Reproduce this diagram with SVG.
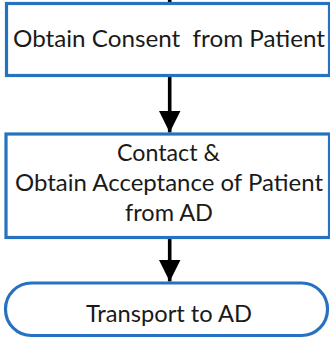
<svg xmlns="http://www.w3.org/2000/svg" width="330" height="339" viewBox="0 0 330 339">
<style>
.box{fill:#ffffff;stroke:#2672C0;stroke-width:3.2}
.lbl{font-family:Lato,"Open Sans","Liberation Sans",sans-serif;font-size:24px;fill:#1a1a1a;text-anchor:middle;white-space:pre}
.edge{stroke:#000;stroke-width:3.6;fill:none}
</style>
<defs>
<marker id="ah" markerUnits="userSpaceOnUse" markerWidth="22" markerHeight="22" refX="20" refY="10" orient="auto" viewBox="0 0 20 20">
<path d="M0,0 L20,10 L0,20 Z" fill="#000"/>
</marker>
</defs>
<rect width="330" height="339" fill="#ffffff"/>
<g id="connectors">
<line class="edge" x1="169.7" y1="-10" x2="169.7" y2="3"/>
<line class="edge" x1="169.7" y1="77" x2="169.7" y2="132.5" marker-end="url(#ah)"/>
<line class="edge" x1="169.7" y1="239" x2="169.7" y2="281.5" marker-end="url(#ah)"/>
</g>
<g id="node-consent">
<rect class="box" x="6.5" y="3.5" width="323" height="72"/>
<text class="lbl" x="169" y="46.7" textLength="312" lengthAdjust="spacingAndGlyphs">Obtain Consent  from Patient</text>
</g>
<g id="node-contact">
<rect class="box" x="6" y="134" width="323.5" height="103.5"/>
<text class="lbl" x="168.5" y="160.7" textLength="103" lengthAdjust="spacingAndGlyphs">Contact &amp;</text>
<text class="lbl" x="169" y="190.7" textLength="308" lengthAdjust="spacingAndGlyphs">Obtain Acceptance of Patient</text>
<text class="lbl" x="169" y="220.7" textLength="88" lengthAdjust="spacingAndGlyphs">from AD</text>
</g>
<g id="node-transport">
<rect class="box" x="5.5" y="283" width="322" height="52.5" rx="26" ry="26"/>
<text class="lbl" x="169" y="322.3" textLength="166" lengthAdjust="spacingAndGlyphs">Transport to AD</text>
</g>
</svg>
